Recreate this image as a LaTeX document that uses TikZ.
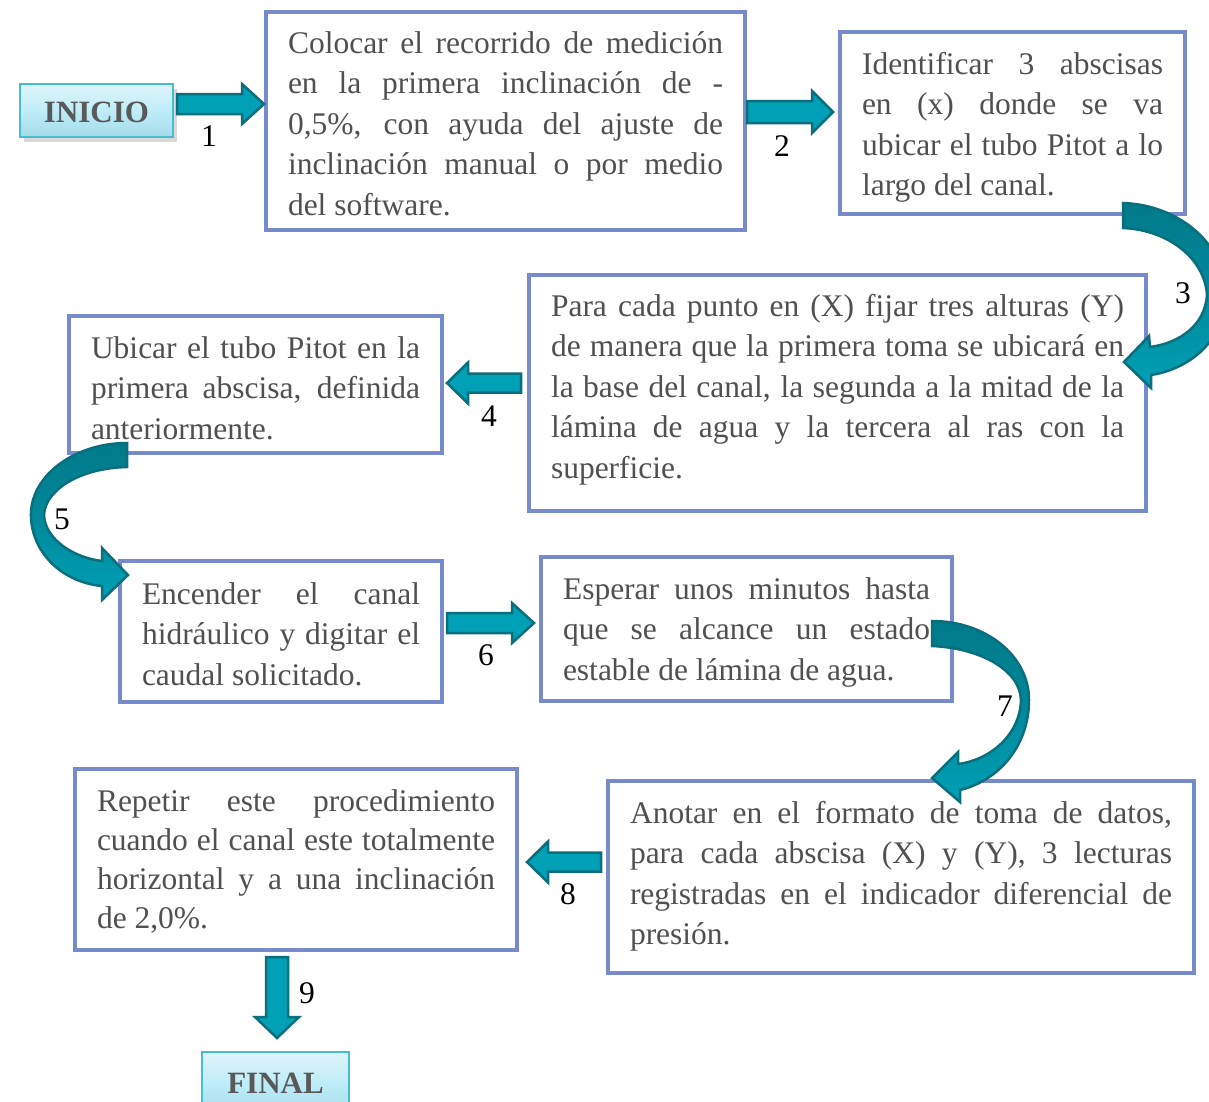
\documentclass[tikz,border=0pt]{standalone}
\usepackage{fontspec}
\setmainfont{Liberation Serif}
\usetikzlibrary{calc}
\definecolor{boxline}{RGB}{118,138,204}
\definecolor{txt}{RGB}{80,80,80}
\definecolor{arrfill}{RGB}{0,160,182}
\definecolor{arrline}{RGB}{10,110,125}
\definecolor{arrdark}{RGB}{0,122,138}
\definecolor{inib}{RGB}{70,190,205}
\definecolor{initop}{RGB}{224,244,250}
\definecolor{inimid}{RGB}{190,237,248}
\definecolor{inibot}{RGB}{166,218,234}
\definecolor{initxt}{RGB}{89,89,89}
\newcommand\jl[1]{\makebox[\hsize][s]{#1}}
\newcommand\toprule{\rule{0pt}{30pt}}
\newcommand\botrule{\rule[-10pt]{0pt}{10pt}}
\newcommand\harrow[6]{\draw[barrow] (#1,#4-#5) -- (#2,#4-#5) -- (#2,#4-#6) -- (#3,#4) -- (#2,#4+#6) -- (#2,#4+#5) -- (#1,#4+#5) -- cycle;}
\newcommand\varrow[6]{\draw[barrow] (#1-#5,#2) -- (#1-#5,#3) -- (#1-#6,#3) -- (#1,#4) -- (#1+#6,#3) -- (#1+#5,#3) -- (#1+#5,#2) -- cycle;}
\begin{document}
\begin{tikzpicture}[x=1pt,y=-1pt,
  stepbox/.style={draw=boxline, line width=3.2pt, rectangle, inner sep=0pt},
  steptext/.style={inner sep=0pt, text=txt, align=justify, font=\fontsize{31.5}{40.5}\selectfont},
  endbox/.style={draw=inib, line width=2pt, top color=initop, bottom color=inibot, middle color=inimid,
    minimum width=147pt, minimum height=53pt, inner sep=0pt, text=initxt,
    font=\bfseries\fontsize{31}{31}\selectfont},
  barrow/.style={fill=arrfill, draw=arrline, line width=2.5pt, line join=miter},
  carrow/.style={draw=arrline, line width=2.5pt, line join=miter, top color=arrdark, bottom color=arrfill, middle color=arrdark!60!arrfill},
  numlab/.style={font=\fontsize{31.5}{31.5}\selectfont, text=black, inner sep=0pt}]
\useasboundingbox (0,0) rectangle (1209,1101);
\clip (0,0) rectangle (1209,1101);
\fill[white] (0,0) rectangle (1209,1101);

% start / end boxes
\fill[black, opacity=0.15] (24,89) rectangle (177,142);
\node[endbox, minimum width=153pt, text height=24.5pt, text depth=0pt] (inicio) at (96.5,110.5) {INICIO};
\node[endbox, minimum height=62pt] (final) at (275.5,1083) {FINAL};

% step boxes
\node[stepbox, minimum width=479pt, minimum height=218pt] (b1) at (505.5,121) {};
\node[stepbox, minimum width=345pt, minimum height=182pt] (b2) at (1012.5,123) {};
\node[stepbox, minimum width=617pt, minimum height=236pt] (b3) at (837.5,393) {};
\node[stepbox, minimum width=373pt, minimum height=137pt] (b4) at (255.5,384.5) {};
\node[stepbox, minimum width=322pt, minimum height=141pt] (b5) at (281,631.5) {};
\node[stepbox, minimum width=411pt, minimum height=144pt] (b6) at (746.5,629) {};
\node[stepbox, minimum width=586pt, minimum height=192pt] (b7) at (901,877) {};
\node[stepbox, minimum width=442pt, minimum height=181pt] (b8) at (296,859.5) {};

% step texts
\node[steptext, text width=435pt] (t1) at ($(b1.center)+(0,3)$)
  {\toprule\jl{Colocar el recorrido de medición}\\ \jl{en la primera inclinación de -}\\ \jl{0,5\%, con ayuda del ajuste de}\\ \jl{inclinación manual o por medio}\\ del software.\botrule};
\node[steptext, text width=301pt] (t2) at ($(b2.center)+(0,1.75)$)
  {\toprule\jl{Identificar 3 abscisas}\\ \jl{en (x) donde se va}\\ \jl{ubicar el tubo Pitot a lo}\\ largo del canal.\botrule};
\node[steptext, text width=573pt] (t3) at ($(b3.center)+(0,-6)$)
  {\toprule\jl{Para cada punto en (X) fijar tres alturas (Y)}\\ \jl{de manera que la primera toma se ubicará en}\\ \jl{la base del canal, la segunda a la mitad de la}\\ \jl{lámina de agua y la tercera al ras con la}\\ superficie.\botrule};
\node[steptext, text width=329pt] (t4) at ($(b4.center)+(0,4)$)
  {\toprule\jl{Ubicar el tubo Pitot en la}\\ \jl{primera abscisa, definida}\\ anteriormente.\botrule};
\node[steptext, text width=278pt] (t5) at ($(b5.center)+(0,3)$)
  {\toprule\jl{Encender el canal}\\ \jl{hidráulico y digitar el}\\ caudal solicitado.\botrule};
\node[steptext, text width=367pt] (t6) at ($(b6.center)+(0,0.5)$)
  {\toprule\jl{Esperar unos minutos hasta}\\ \jl{que se alcance un estado}\\ estable de lámina de agua.\botrule};
\node[steptext, text width=542pt] (t7) at ($(b7.center)+(0,-3.25)$)
  {\toprule\jl{Anotar en el formato de toma de datos,}\\ \jl{para cada abscisa (X) y (Y), 3 lecturas}\\ \jl{registradas en el indicador diferencial de}\\ presión.\botrule};
\node[steptext, text width=398pt, font=\fontsize{31.5}{39}\selectfont] (t8) at (b8.center)
  {\toprule\jl{Repetir este procedimiento}\\ \jl{cuando el canal este totalmente}\\ \jl{horizontal y a una inclinación}\\ de 2,0\%.\botrule};

% straight block arrows
\harrow{177}{242}{264}{104}{10}{20}
\harrow{747}{812}{833}{112}{11}{21}
\harrow{521}{468}{447}{383}{9.5}{20.5}
\harrow{447}{512}{534}{623}{10}{20}
\harrow{601}{548}{527}{862}{9.5}{20.5}
\varrow{277}{957}{1017}{1038}{11}{22}

% curved arrows
\draw[carrow] (1123,203) -- (1123,228)
  .. controls (1170,230) and (1205,260) .. (1207,295)
  .. controls (1205,325) and (1180,343) .. (1150,347)
  -- (1149,336) -- (1124,362) -- (1151,388) -- (1151,375)
  .. controls (1195,368) and (1226,335) .. (1226,295)
  .. controls (1226,245) and (1180,205) .. (1123,203) -- cycle;
\draw[carrow] (127,443) -- (127,467)
  .. controls (80,468) and (45,490) .. (44,515)
  .. controls (45,540) and (75,558) .. (102,561)
  -- (102,548) -- (128,575) -- (102,600) -- (102,586)
  .. controls (60,582) and (30,550) .. (31,513)
  .. controls (32,475) and (75,443) .. (127,443) -- cycle;
\draw[carrow] (932,621) -- (932,646)
  .. controls (980,648) and (1020,670) .. (1021,700)
  .. controls (1020,735) and (990,760) .. (958,764)
  -- (958,752) -- (932,778) -- (960,802) -- (960,790)
  .. controls (1000,780) and (1029,745) .. (1029,700)
  .. controls (1029,655) and (985,621) .. (932,621) -- cycle;

% step numbers
\node[numlab] (n1) at (209,136) {1};
\node[numlab] (n2) at (782,146) {2};
\node[numlab] (n3) at (1183,293) {3};
\node[numlab] (n4) at (489,416) {4};
\node[numlab] (n5) at (62,519) {5};
\node[numlab] (n6) at (486,655) {6};
\node[numlab] (n7) at (1005,706) {7};
\node[numlab] (n8) at (568,894) {8};
\node[numlab] (n9) at (307,993) {9};
\end{tikzpicture}
\end{document}
